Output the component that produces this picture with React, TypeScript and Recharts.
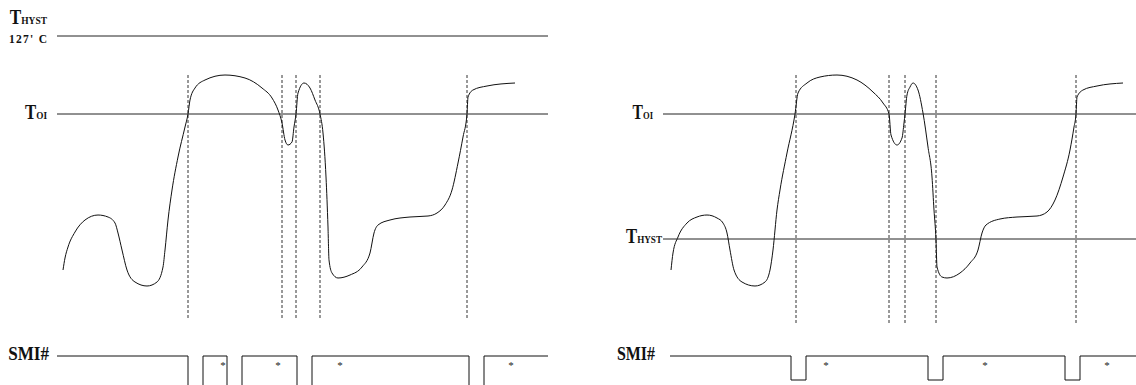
import React from 'react';
import { ComposedChart, Line, XAxis, YAxis, ReferenceLine, ReferenceDot } from 'recharts';

// Time axis (arbitrary units) and temperature level (arbitrary units, up = hotter)
const leftTime = [63, 65, 68, 75, 85, 98, 108, 115, 118, 122, 127, 135, 147, 157, 163, 165, 168, 172, 178, 185, 188, 190, 195, 205, 225, 245, 262, 272, 278, 282, 285, 288, 292, 294, 296, 298, 304, 310, 315, 320, 323, 326, 328, 329, 332, 338, 350, 362, 370, 374, 378, 390, 410, 428, 437, 445, 452, 458, 463, 467, 468, 473, 487, 515];
const leftTemp = [115, 127, 138, 153, 165, 170, 168, 162, 152, 135, 115, 103, 99, 103, 118, 135, 165, 195, 228, 258, 271, 285, 297, 305, 310, 307, 297, 287, 275, 262, 245, 240, 243, 258, 271, 292, 302, 297, 285, 271, 252, 208, 158, 125, 112, 107, 110, 118, 132, 152, 160, 165, 168, 169, 172, 180, 195, 222, 248, 271, 288, 295, 299, 302];

const rightTime = [671, 673, 678, 687, 697, 707, 717, 723, 727, 730, 734, 742, 755, 765, 770, 773, 777, 780, 787, 795, 798, 807, 820, 837, 857, 873, 883, 889, 891, 897, 902, 904, 905, 907, 910, 913, 918, 923, 928, 932, 934, 936, 937, 942, 947, 960, 970, 978, 982, 986, 1000, 1017, 1037, 1047, 1055, 1063, 1070, 1074, 1076, 1077, 1083, 1097, 1123];
const rightTemp = [115, 132, 148, 162, 168, 170, 167, 162, 152, 135, 115, 103, 99, 103, 115, 135, 175, 195, 232, 271, 292, 302, 308, 310, 305, 293, 282, 271, 250, 240, 247, 262, 271, 290, 298, 302, 295, 272, 238, 208, 175, 145, 118, 108, 107, 112, 122, 135, 152, 160, 166, 168, 169, 173, 185, 208, 235, 258, 271, 288, 295, 299, 302];

// Threshold levels
const levelThyst127 = 349;
const levelToi = 271;
const levelThystRight = 146;

// Panel extents in time
const leftStart = 57;
const leftEnd = 548;
const rightStart = 663;
const rightEnd = 1136;

// Event markers (dashed verticals)
const leftEventTimes = [188, 282, 296, 320, 467];
const rightEventTimes = [796, 889, 905, 936, 1076];
const eventTop = 310;
const leftEventBottom = 67;
const rightEventBottom = 60;

// SMI# signal
const leftSmiTime = [57, 188, 203, 227, 242, 297, 312, 469, 484, 548];
const leftSmiState = [1, 0, 1, 0, 1, 0, 1, 0, 1, 1];
const rightSmiTime = [670, 791, 806, 928, 943, 1065, 1080, 1136];
const rightSmiState = [1, 0, 1, 0, 1, 0, 1, 1];
const smiHigh = 29;
const leftSmiLow = -12;
const rightSmiLow = 5;
const leftAsteriskTimes = [223, 278, 340, 511];
const rightAsteriskTimes = [826, 985, 1107];

const zip = (ts: number[], vs: number[]) => ts.map((t, i) => ({ t, v: vs[i] }));
const smi = (ts: number[], st: number[], low: number) => ts.map((t, i) => ({ t, v: st[i] ? smiHigh : low }));

const leftCurve = zip(leftTime, leftTemp);
const rightCurve = zip(rightTime, rightTemp);
const leftSmi = smi(leftSmiTime, leftSmiState, leftSmiLow);
const rightSmi = smi(rightSmiTime, rightSmiState, rightSmiLow);

const FONT = '"Liberation Serif", "Times New Roman", serif';
const INK = '#111';

// "T" with a small suffix, right-aligned at xEnd, horizontally condensed by sx
const TSub = ({ xEnd, y, sub, sx }: any) => (
  <text
    transform={`translate(${xEnd},${y}) scale(${sx},1)`}
    x={0}
    y={0}
    textAnchor="end"
    fontFamily={FONT}
    fontWeight="bold"
    fill={INK}
  >
    <tspan fontSize={20}>T</tspan>
    <tspan fontSize={11}>{sub}</tspan>
  </text>
);

const subLabel = (sub: string, gap: number, dy: number, sx: number) => (props: any) => {
  const vb = props.viewBox || {};
  return <TSub xEnd={vb.x - gap} y={vb.y + dy} sub={sub} sx={sx} />;
};

const thyst127Label = (props: any) => {
  const vb = props.viewBox || {};
  return (
    <g>
      <TSub xEnd={vb.x - 10} y={vb.y - 12} sub="HYST" sx={0.86} />
      <text
        x={vb.x - 48}
        y={vb.y + 7}
        fontFamily={FONT}
        fontWeight="bold"
        fontSize={11.5}
        fill={INK}
        textLength={38}
        lengthAdjust="spacing"
      >
        127' C
      </text>
    </g>
  );
};

const smiLabel = (gap: number, sx: number) => (props: any) => {
  const vb = props.viewBox || {};
  return (
    <text
      transform={`translate(${vb.x - gap},${vb.y + 4}) scale(${sx},1)`}
      x={0}
      y={0}
      textAnchor="end"
      fontFamily={FONT}
      fontWeight="bold"
      fontSize={19}
      fill={INK}
    >
      SMI#
    </text>
  );
};

const asteriskLabel = (props: any) => {
  const vb = props.viewBox || {};
  return (
    <text x={vb.x} y={vb.y + 13} textAnchor="middle" fontFamily={FONT} fontSize={11} fill="#222">
      *
    </text>
  );
};

export default function App() {
  return (
    <div style={{ position: 'absolute', left: 0, top: 0, width: 1136, height: 385, overflow: 'hidden', background: '#fff' }}>
      <ComposedChart width={1136} height={400} margin={{ top: 0, right: 0, bottom: 0, left: 0 }}>
        <XAxis type="number" dataKey="t" domain={[0, 1136]} hide allowDataOverflow />
        <YAxis type="number" dataKey="v" domain={[-15, 385]} hide allowDataOverflow />

        <ReferenceLine
          segment={[{ x: leftStart, y: levelThyst127 }, { x: leftEnd, y: levelThyst127 }]}
          stroke="#222"
          strokeWidth={1}
          label={thyst127Label}
        />
        <ReferenceLine
          segment={[{ x: leftStart, y: levelToi }, { x: leftEnd, y: levelToi }]}
          stroke="#222"
          strokeWidth={1}
          label={subLabel('OI', 10, 5, 0.84)}
        />
        <ReferenceLine
          segment={[{ x: rightStart, y: levelToi }, { x: rightEnd, y: levelToi }]}
          stroke="#222"
          strokeWidth={1}
          label={subLabel('OI', 10, 5, 0.78)}
        />
        <ReferenceLine
          segment={[{ x: rightStart, y: levelThystRight }, { x: rightEnd, y: levelThystRight }]}
          stroke="#222"
          strokeWidth={1}
          label={subLabel('HYST', 1, 4, 0.83)}
        />

        {leftEventTimes.map((t) => (
          <ReferenceLine
            key={'le' + t}
            segment={[{ x: t, y: eventTop }, { x: t, y: leftEventBottom }]}
            stroke="#333"
            strokeWidth={1}
            strokeDasharray="3 2"
          />
        ))}
        {rightEventTimes.map((t) => (
          <ReferenceLine
            key={'re' + t}
            segment={[{ x: t, y: eventTop }, { x: t, y: rightEventBottom }]}
            stroke="#333"
            strokeWidth={1}
            strokeDasharray="3 2"
          />
        ))}

        <Line data={leftCurve} dataKey="v" type="monotone" stroke="#111" strokeWidth={1} dot={false} isAnimationActive={false} />
        <Line data={rightCurve} dataKey="v" type="monotone" stroke="#111" strokeWidth={1} dot={false} isAnimationActive={false} />

        <Line data={leftSmi} dataKey="v" type="stepAfter" stroke="#111" strokeWidth={1} dot={false} activeDot={false} isAnimationActive={false} />
        <Line data={rightSmi} dataKey="v" type="stepAfter" stroke="#111" strokeWidth={1} dot={false} activeDot={false} isAnimationActive={false} />

        <ReferenceLine
          segment={[{ x: leftSmiTime[0], y: smiHigh }, { x: leftSmiTime[1], y: smiHigh }]}
          stroke="none"
          label={smiLabel(8, 0.9)}
        />
        <ReferenceLine
          segment={[{ x: rightSmiTime[0], y: smiHigh }, { x: rightSmiTime[1], y: smiHigh }]}
          stroke="none"
          label={smiLabel(15, 0.84)}
        />

        {leftAsteriskTimes.map((t) => (
          <ReferenceDot key={'la' + t} x={t} y={smiHigh} r={0} fill="none" stroke="none" label={asteriskLabel} />
        ))}
        {rightAsteriskTimes.map((t) => (
          <ReferenceDot key={'ra' + t} x={t} y={smiHigh} r={0} fill="none" stroke="none" label={asteriskLabel} />
        ))}
      </ComposedChart>
    </div>
  );
}
